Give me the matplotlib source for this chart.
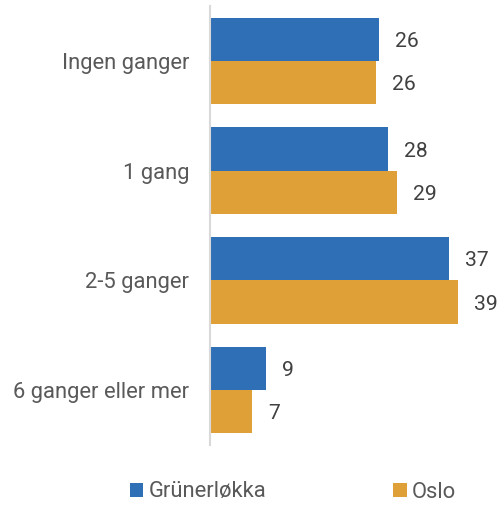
import matplotlib
matplotlib.use("Agg")
import matplotlib.pyplot as plt
import numpy as np

plt.rcParams['font.family'] = ['Roboto', 'DejaVu Sans']

categories = ["Ingen ganger", "1 gang", "2-5 ganger", "6 ganger eller mer"]
grunerlokka = [26.4, 27.8, 37.3, 8.8]
oslo = [25.9, 29.2, 38.8, 6.6]
series_names = ["Grünerløkka", "Oslo"]

blue = "#2E6FB5"
orange = "#E0A038"
label_col = "#595959"
num_col = "#404040"

fig = plt.figure(figsize=(5.04, 5.05), dpi=100)
ax = fig.add_axes([210 / 504, 60 / 505, 288 / 504, 439 / 505])

y = np.arange(len(categories))
h = 0.395
b1 = ax.barh(y - h / 2, grunerlokka, height=h, color=blue, label=series_names[0])
b2 = ax.barh(y + h / 2, oslo, height=h, color=orange, label=series_names[1])

fs = 15.8
for bars, vals in ((b1, grunerlokka), (b2, oslo)):
    for bar, v in zip(bars, vals):
        ax.text(v + 2.5, bar.get_y() + bar.get_height() / 2 + 0.02, f"{v:.0f}",
                va="center", ha="left", fontsize=15.2, color=num_col)

ax.set_xlim(0, 45)
ax.set_ylim(3.5, -0.5)
ax.set_yticks(y)
ax.set_yticklabels(categories, fontsize=fs, color=label_col)
ax.tick_params(axis='y', length=0, pad=15)
ax.set_xticks([])
for s in ("top", "right", "bottom"):
    ax.spines[s].set_visible(False)
ax.spines["left"].set_color("#D9D9D9")
ax.spines["left"].set_linewidth(1.5)

fig.legend(handles=[b1, b2], labels=series_names, loc="center",
           bbox_to_anchor=(293 / 504, 1 - 492 / 505), ncol=2, frameon=False,
           fontsize=fs, labelcolor=label_col, handlelength=0.6,
           handleheight=0.6, handletextpad=0.25, columnspacing=5.8)

fig.savefig("out.png", dpi=100)
